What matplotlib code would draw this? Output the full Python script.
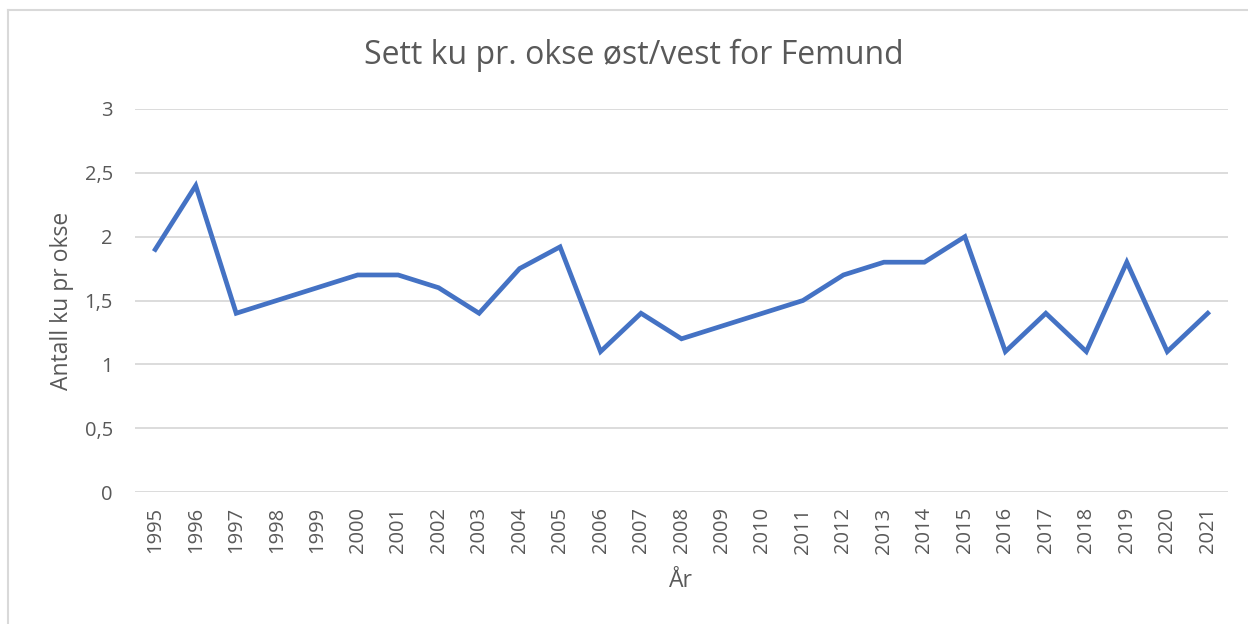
import matplotlib
matplotlib.use("Agg")
import matplotlib.pyplot as plt
from matplotlib.lines import Line2D

years = [str(y) for y in range(1995, 2022)]
values = [1.9, 2.4, 1.4, 1.5, 1.6, 1.7, 1.7, 1.6, 1.4, 1.75, 1.92, 1.1, 1.4, 1.2,
          1.3, 1.4, 1.5, 1.7, 1.8, 1.8, 2.0, 1.1, 1.4, 1.1, 1.8, 1.1, 1.4]
yticks = [0, 0.5, 1, 1.5, 2, 2.5, 3]
ytick_labels = ["0", "0,5", "1", "1,5", "2", "2,5", "3"]

plt.rcParams['font.family'] = ['Open Sans', 'DejaVu Sans']
txt = '#595959'
W, H = 1248, 624
fig = plt.figure(figsize=(W / 100, H / 100), dpi=100)
ax = fig.add_axes([135 / W, 1 - 492 / H, (1228 - 135) / W, (492 - 109) / H])

x = list(range(len(years)))
ax.plot(x, values, color='#4472C4', linewidth=3.4, solid_joinstyle='miter', zorder=3)
ax.set_xlim(-0.5, len(years) - 0.5)
ax.set_ylim(0, 3)
ax.set_yticks(yticks)
ax.set_yticklabels(ytick_labels)
ax.set_xticks(x)
ax.set_xticklabels(years, rotation=90)
ax.grid(axis='y', color='#D9D9D9', linewidth=1.3)
ax.set_axisbelow(True)
for s in ax.spines.values():
    s.set_visible(False)
ax.tick_params(axis='both', length=0, colors=txt, labelsize=14.5)
ax.tick_params(axis='y', pad=16)
ax.tick_params(axis='x', pad=11)

fig.text(634 / W, 1 - 55 / H, "Sett ku pr. okse øst/vest for Femund", ha='center', va='center',
         fontsize=23, color=txt)
fig.text(62 / W, 1 - 301 / H, "Antall ku pr okse", ha='center', va='center', rotation=90,
         fontsize=16.5, color=txt)
fig.text(681 / W, 1 - 581 / H, "År", ha='center', va='center', fontsize=16.5, color=txt)

fig.add_artist(Line2D([8 / W, 8 / W], [0, 1 - 10 / H], transform=fig.transFigure,
                      color='#D9D9D9', linewidth=1.5))
fig.add_artist(Line2D([8 / W, 1], [1 - 10 / H, 1 - 10 / H], transform=fig.transFigure,
                      color='#D9D9D9', linewidth=1.5))

fig.savefig("out.png", dpi=100, facecolor='white')
